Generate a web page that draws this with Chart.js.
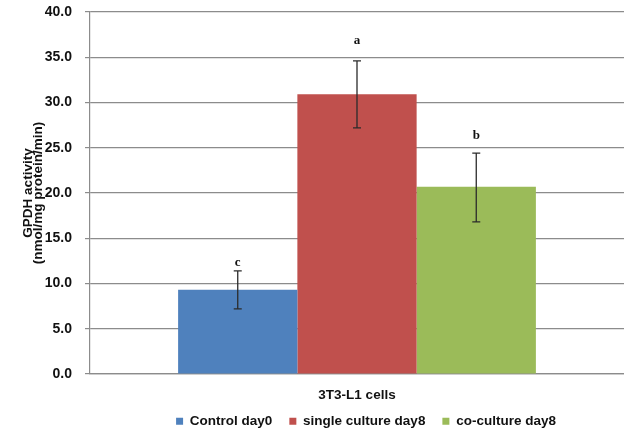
<!DOCTYPE html>
<html>
<head>
<meta charset="utf-8">
<script src="https://cdn.jsdelivr.net/npm/chart.js@4.4.1/dist/chart.umd.min.js"></script>
<style>
  html, body { margin: 0; padding: 0; background: #fff; }
  #wrap { width: 624px; height: 438px; }
</style>
</head>
<body>
<div id="wrap"><canvas id="gpdhChart" width="624" height="438"></canvas></div>
<script>
// Data
const categories = ['3T3-L1 cells'];
const seriesNames = ['Control day0', 'single culture day8', 'co-culture day8'];
const means = [9.3, 30.9, 20.7];
const errLow = [7.2, 27.2, 16.8];
const errHigh = [11.4, 34.6, 24.4];
const letters = ['c', 'a', 'b'];
const letterAt = [12.3, 36.8, 26.3];
const yTicks = [0, 5, 10, 15, 20, 25, 30, 35, 40];

const colours = ['#4F81BD', '#C0504D', '#9BBB59'];
const fontName = '"Liberation Sans", Arial, sans-serif';

// draws error bars and significance letters from the data above
const errorBarPlugin = {
    id: 'errorBars',
    afterLayout(chart) {
        // Excel centred the legend a bit right of the plot centre
        if (chart.legend) {
            chart.legend.left += 9;
            chart.legend.right += 9;
        }
        // let the category label run into the legend band (labels are clipped to the scale box)
        chart.scales.x.bottom = chart.height;
    },
    afterDatasetsDraw(chart) {
        const ctx = chart.ctx;
        const y = chart.scales.y;
        ctx.save();
        chart.data.datasets.forEach((ds, i) => {
            const bar = chart.getDatasetMeta(i).data[0];
            const x = bar.x;
            const top = y.getPixelForValue(errHigh[i]);
            const bottom = y.getPixelForValue(errLow[i]);
            ctx.strokeStyle = '#2b2b2b';
            ctx.lineWidth = 1.3;
            ctx.beginPath();
            ctx.moveTo(x, top);
            ctx.lineTo(x, bottom);
            ctx.moveTo(x - 4, top);
            ctx.lineTo(x + 4, top);
            ctx.moveTo(x - 4, bottom);
            ctx.lineTo(x + 4, bottom);
            ctx.stroke();

            ctx.fillStyle = '#111';
            ctx.font = 'bold 13px "Liberation Serif", "Times New Roman", serif';
            ctx.textAlign = 'center';
            ctx.textBaseline = 'middle';
            ctx.fillText(letters[i], x, y.getPixelForValue(letterAt[i]));
        });
        ctx.restore();
    }
};

const canvas = document.getElementById('gpdhChart');
if (canvas) {
    new Chart(canvas.getContext('2d'), {
        type: 'bar',
        data: {
            labels: categories,
            datasets: seriesNames.map((name, i) => ({
                label: name,
                data: [means[i]],
                backgroundColor: colours[i],
                borderWidth: 0
            }))
        },
        options: {
            responsive: false,
            animation: false,
            layout: { padding: 0 },
            categoryPercentage: 0.67,
            barPercentage: 1.0,
            plugins: {
                legend: {
                    position: 'bottom',
                    fullSize: false,
                    labels: {
                        boxWidth: 7,
                        boxHeight: 7,
                        padding: 17,
                        color: '#111',
                        font: { family: fontName, size: 13.5, weight: 'bold' }
                    }
                },
                tooltip: { enabled: false }
            },
            scales: {
                y: {
                    min: 0,
                    max: 40,
                    afterBuildTicks(scale) {
                        scale.ticks = yTicks.map(v => ({ value: v }));
                    },
                    afterFit(scale) {
                        scale.width = 90;
                        scale.paddingTop = 12;
                        scale.paddingBottom = 0;
                    },
                    grid: {
                        color: '#8c8c8c',
                        lineWidth: 1.2,
                        tickLength: 5,
                        drawTicks: true
                    },
                    border: { color: '#8c8c8c', width: 1.2 },
                    ticks: {
                        padding: 13,
                        color: '#111',
                        font: { family: fontName, size: 14, weight: 'bold' },
                        callback: v => Number(v).toFixed(1)
                    },
                    title: {
                        display: true,
                        text: ['GPDH activity', '(nmol/mg protein/min)'],
                        color: '#111',
                        padding: { top: 22.5, bottom: 0 },
                        font: { family: fontName, size: 13.5, weight: 'bold', lineHeight: 0.8 }
                    }
                },
                x: {
                    afterFit(scale) { scale.height = 23.5; },
                    grid: { display: false, drawTicks: false },
                    border: { color: '#8c8c8c', width: 1.2 },
                    ticks: {
                        autoSkip: false,
                        maxRotation: 0,
                        minRotation: 0,
                        padding: 13,
                        color: '#111',
                        font: { family: fontName, size: 13.5, weight: 'bold' }
                    }
                }
            }
        },
        plugins: [errorBarPlugin]
    });
}
</script>
</body>
</html>
